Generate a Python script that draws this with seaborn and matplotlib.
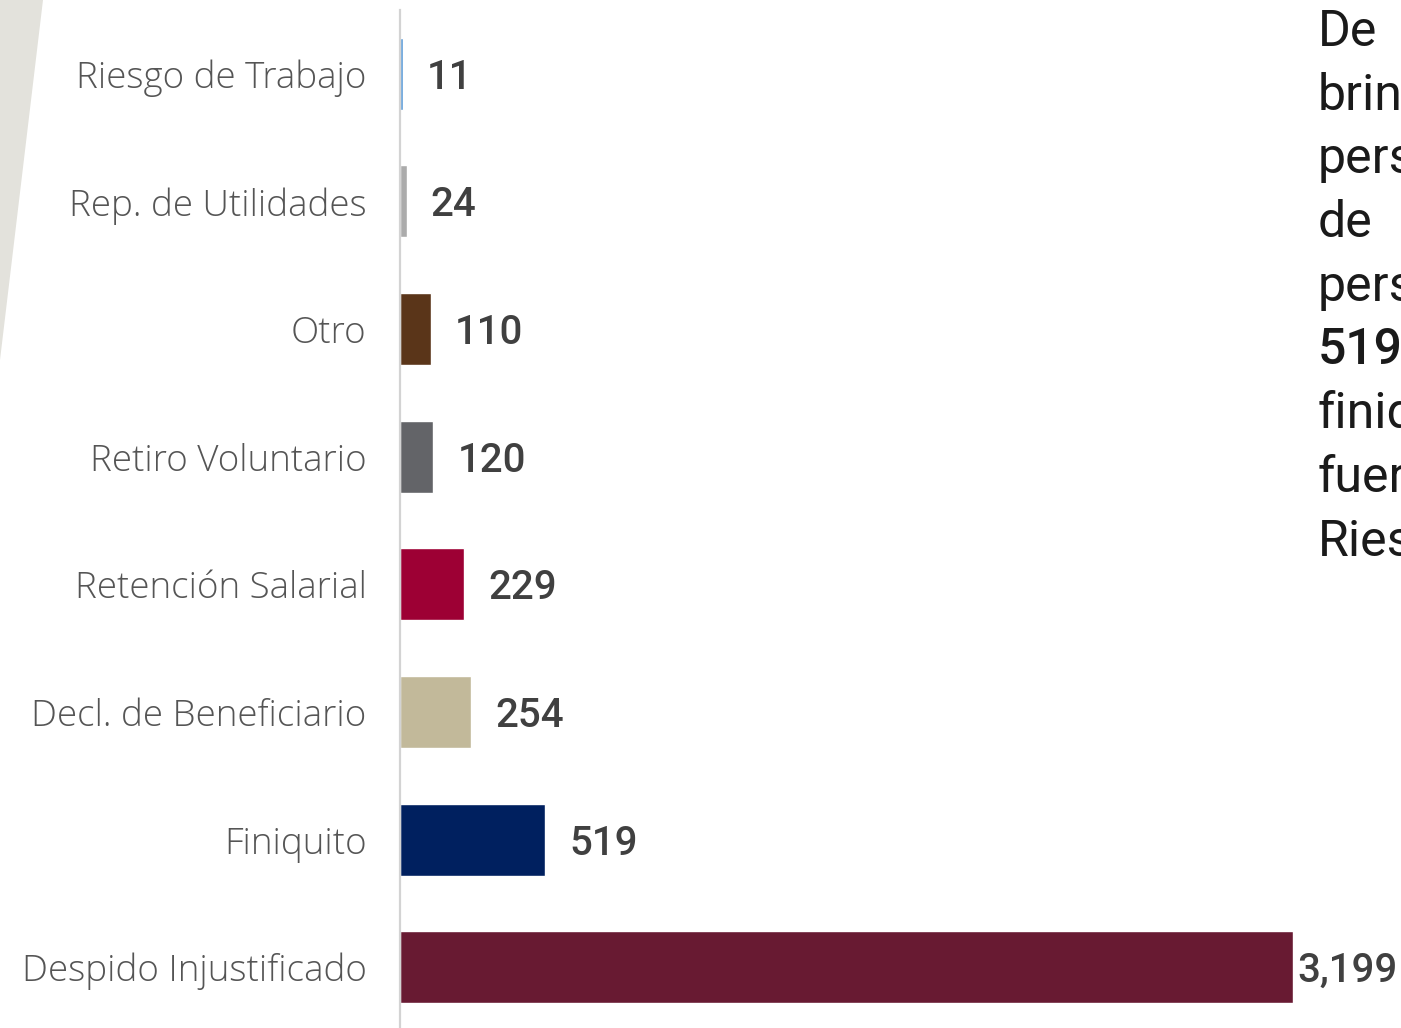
import matplotlib
matplotlib.use("Agg")
import matplotlib.pyplot as plt
import seaborn as sns
import pandas as pd
from matplotlib.patches import Polygon

# datos
categorias = ["Riesgo de Trabajo", "Rep. de Utilidades", "Otro", "Retiro Voluntario",
              "Retención Salarial", "Decl. de Beneficiario", "Finiquito", "Despido Injustificado"]
valores = [11, 24, 110, 120, 229, 254, 519, 3199]
colores = ["#5B9BD8", "#ABABAB", "#5A3519", "#636468", "#9D0034", "#C2B99A", "#00205F", "#681A32"]
etiquetas = ["11", "24", "110", "120", "229", "254", "519", "3,199"]
texto_lateral = ["De", "brindadas", "personas", "de", "personas", "519", "finiquito", "fueron", "Riesgo"]

df = pd.DataFrame({"categoria": categorias, "valor": valores})

sns.set_style("white")
plt.rcParams["font.family"] = ["Roboto", "DejaVu Sans"]

W, H = 1401, 1028
fig = plt.figure(figsize=(W / 100, H / 100), dpi=100)
fig.patch.set_facecolor("white")

# triangulo gris de fondo
fig.patches.append(Polygon([(0, 1), (43 / W, 1), (0, 1 - 360 / H)], closed=True,
                           transform=fig.transFigure, facecolor="#E3E2DC", edgecolor="none", zorder=0))

ax = fig.add_axes([400 / W, -3 / H, (1293 - 400) / W, 1021 / H])
sns.barplot(data=df, x="valor", y="categoria", hue="categoria", palette=colores,
            orient="h", width=0.565, legend=False, ax=ax, saturation=1)

ax.set_xlim(0, 3199)
ax.set_ylim(7.5, -0.5)
ax.set_xlabel("")
ax.set_ylabel("")
ax.set_xticks([])
for s in ["top", "right", "bottom"]:
    ax.spines[s].set_visible(False)
ax.spines["left"].set_color("#D3D3D3")
ax.spines["left"].set_linewidth(1.6)
ax.tick_params(axis="y", length=0, pad=24)
ax.set_yticks(range(len(categorias)))
ax.set_yticklabels(categorias, fontsize=26.5, color="#555555", fontweight="light",
                   family=["Open Sans", "Roboto", "DejaVu Sans"])

# etiquetas de valor
px = 3199 / (1293 - 400)
for i, (v, lab) in enumerate(zip(valores, etiquetas)):
    off = 24 if i < len(valores) - 1 else 4
    ax.text(v + off * px, i, lab, va="center_baseline", ha="left", fontsize=29,
            fontweight="medium", color="#404040", clip_on=False)

# texto lateral (recortado por el borde, como en el original)
for j, linea in enumerate(texto_lateral):
    fig.text(1318 / W, 1 - (32 + j * 63.7) / H, linea, ha="left", va="center",
             fontsize=36, color="#1A1A1A",
             fontweight="medium" if linea == "519" else "normal")

fig.savefig("out.png", dpi=100)
